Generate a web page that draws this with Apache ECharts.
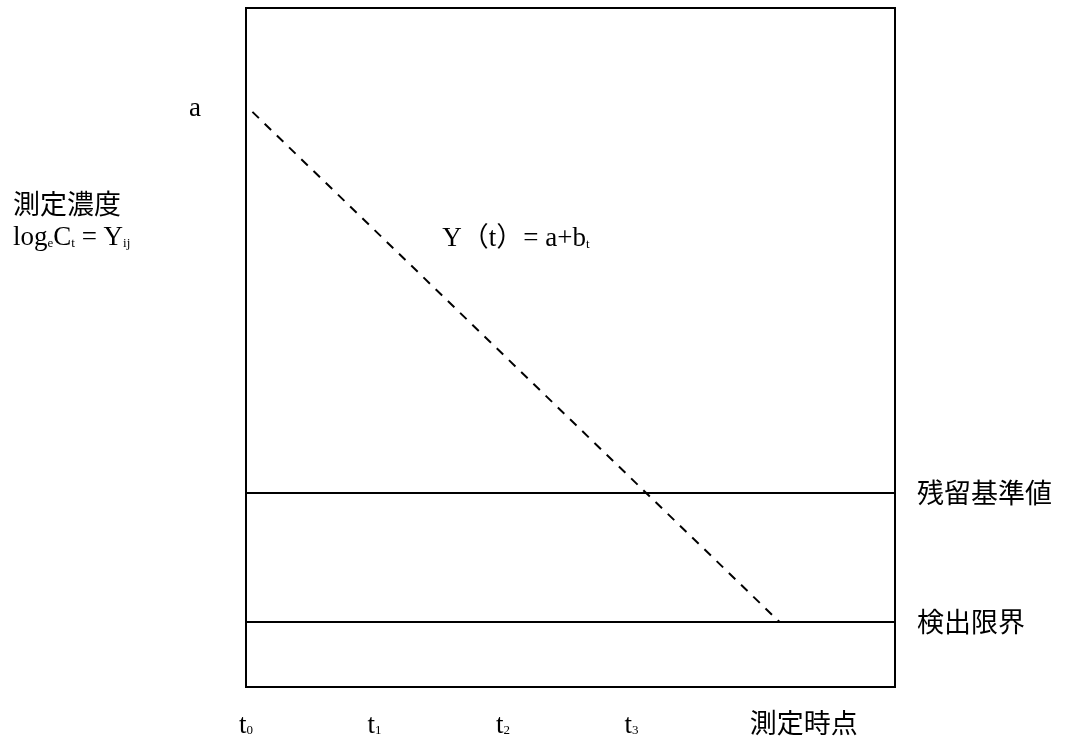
<!DOCTYPE html>
<html>
<head>
<meta charset="utf-8">
<script src="https://cdn.jsdelivr.net/npm/echarts@6/dist/echarts.min.js"></script>
<style>
  html, body { margin: 0; padding: 0; background: #fff; }
  #chart { width: 1072px; height: 740px; }
</style>
</head>
<body>
<div id="chart"></div>
<script>
// données du schéma (unités : x en pas de t, y en % de la hauteur)
var xTicks = [0, 1, 2, 3, 4.34];
var xTickLabels = ['{l|t}{s|0}', '{l|t}{s|1}', '{l|t}{s|2}', '{l|t}{s|3}', '{j|測定時点}'];
var yTicks = [68.8, 85.1];
var yTickLabels = ['{j|測定濃度}\n{l|log}{s|e}{l|C}{s|t}{l| = Y}{s|ij}', '{a|a}'];
var regressionLine = [[0.05, 84.7], [4.15, 9.6]];
var limitNames = ['残留基準値', '検出限界'];
var limitValues = [28.6, 9.6];
var formulaAt = [2.10, 66.3];

var serif = '"Liberation Serif", "Times New Roman", "Noto Sans CJK JP", serif';
var cjk = '"Noto Sans CJK JP", sans-serif';

var rich = {
    l: { fontFamily: serif, fontSize: 27, color: '#000', verticalAlign: 'bottom', lineHeight: 32 },
    s: { fontFamily: serif, fontSize: 13, color: '#000', verticalAlign: 'bottom', lineHeight: 29, padding: [0, 0, 2, 0] },
    j: { fontFamily: cjk, fontSize: 27, color: '#000', lineHeight: 32 },
    a: { fontFamily: serif, fontSize: 27, color: '#000', padding: [0, 0, 0, 176] }
};

var chart = echarts.init(document.getElementById('chart'));

var option = {
    animation: false,
    backgroundColor: '#fff',
    grid: {
        left: 246, top: 8, right: 177, bottom: 53,
        show: true, borderColor: '#000', borderWidth: 2, backgroundColor: 'transparent'
    },
    xAxis: {
        type: 'value', min: 0, max: 5.05,
        axisLine: { show: false }, axisTick: { show: false }, splitLine: { show: false },
        axisLabel: {
            customValues: xTicks,
            margin: 20,
            formatter: function(v) {
                var i = xTicks.indexOf(v);
                return i >= 0 ? xTickLabels[i] : '';
            },
            rich: rich
        }
    },
    yAxis: {
        type: 'value', min: 0, max: 100,
        axisLine: { show: false }, axisTick: { show: false }, splitLine: { show: false },
        axisLabel: {
            customValues: yTicks,
            margin: 233,
            align: 'left',
            formatter: function(v) {
                var i = yTicks.indexOf(v);
                return i >= 0 ? yTickLabels[i] : '';
            },
            rich: rich
        }
    },
    series: [
        {
            type: 'line',
            data: regressionLine,
            symbol: 'none',
            lineStyle: { color: '#000', width: 2, type: [9, 8] },
            markPoint: {
                symbol: 'circle', symbolSize: 1,
                itemStyle: { color: 'transparent' },
                label: {
                    show: true, position: 'inside',
                    formatter: '{l|Y（t）= a+b}{s|t}',
                    rich: rich
                },
                data: [{ coord: formulaAt }]
            },
            markLine: {
                silent: true,
                symbol: 'none',
                lineStyle: { color: '#000', width: 2, type: 'solid' },
                label: {
                    show: true, position: 'end', distance: 22,
                    formatter: '{b}',
                    fontFamily: cjk, fontSize: 27, color: '#000'
                },
                data: limitValues.map(function(v, i) {
                    return { name: limitNames[i], yAxis: v };
                })
            }
        }
    ]
};

chart.setOption(option);
</script>
</body>
</html>
